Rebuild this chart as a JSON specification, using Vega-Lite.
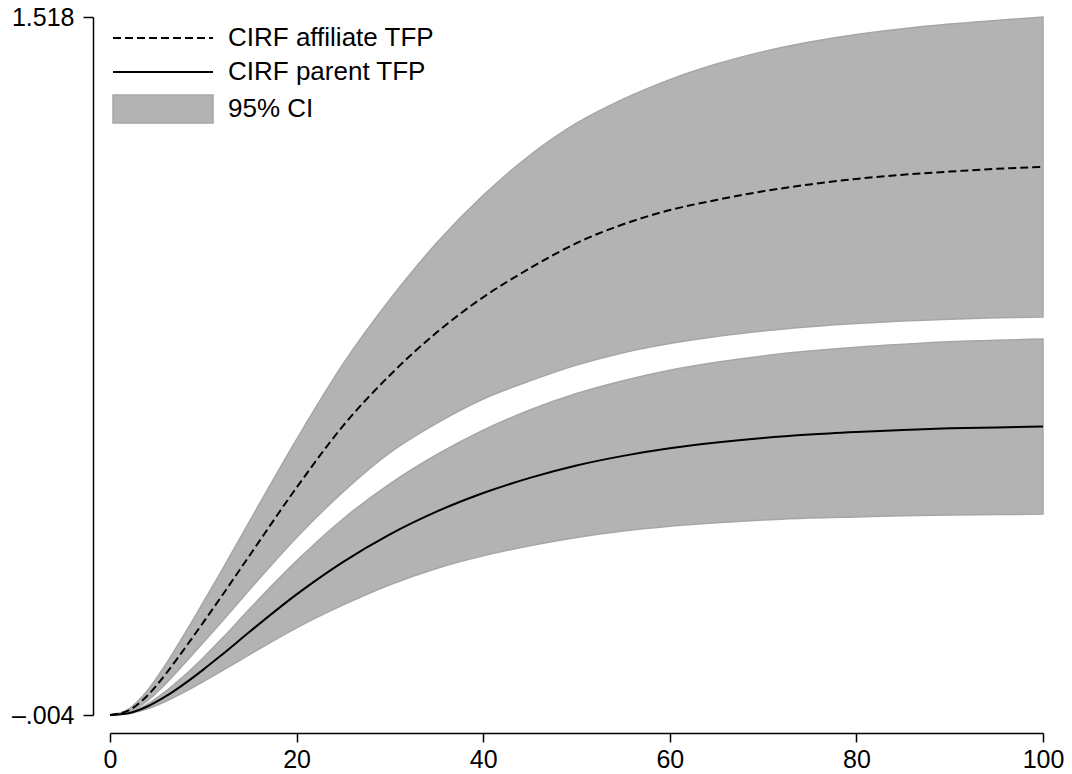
{
  "$schema": "https://vega.github.io/schema/vega-lite/v6.json",
  "width": 933,
  "height": 698,
  "autosize": {"type": "none"},
  "padding": {"left": 110, "top": 17, "right": 29, "bottom": 59},
  "background": "white",
  "config": {
    "view": {"stroke": null},
    "font": "Liberation Sans",
    "axis": {"grid": false, "domainColor": "black", "tickColor": "black", "labelColor": "black", "domainWidth": 1.5, "tickWidth": 1.5, "labelFont": "Liberation Sans", "labelFontSize": 25, "labelFlush": false, "labelOverlap": false}
  },
  "data": {
    "values": [
      {"x": 0, "ah": -0.004, "a": -0.004, "al": -0.004, "ph": -0.004, "p": -0.004, "pl": -0.004},
      {"x": 2, "ah": 0.009, "a": 0.006, "al": 0.003, "ph": 0.001, "p": 0.000, "pl": -0.001},
      {"x": 4, "ah": 0.049, "a": 0.038, "al": 0.027, "ph": 0.0195, "p": 0.0145, "pl": 0.0095},
      {"x": 6, "ah": 0.107, "a": 0.086, "al": 0.065, "ph": 0.048, "p": 0.037, "pl": 0.026},
      {"x": 8, "ah": 0.173, "a": 0.141, "al": 0.109, "ph": 0.0825, "p": 0.0645, "pl": 0.0465},
      {"x": 10, "ah": 0.242, "a": 0.198, "al": 0.154, "ph": 0.121, "p": 0.095, "pl": 0.069},
      {"x": 12, "ah": 0.312, "a": 0.256, "al": 0.200, "ph": 0.1625, "p": 0.1275, "pl": 0.0925},
      {"x": 15, "ah": 0.420, "a": 0.345, "al": 0.270, "ph": 0.228, "p": 0.178, "pl": 0.128},
      {"x": 20, "ah": 0.597, "a": 0.492, "al": 0.383, "ph": 0.332, "p": 0.259, "pl": 0.186},
      {"x": 25, "ah": 0.762, "a": 0.627, "al": 0.483, "ph": 0.424, "p": 0.330, "pl": 0.236},
      {"x": 30, "ah": 0.902, "a": 0.737, "al": 0.568, "ph": 0.500, "p": 0.390, "pl": 0.280},
      {"x": 35, "ah": 1.025, "a": 0.830, "al": 0.632, "ph": 0.5635, "p": 0.4395, "pl": 0.3155},
      {"x": 40, "ah": 1.129, "a": 0.907, "al": 0.685, "ph": 0.617, "p": 0.480, "pl": 0.343},
      {"x": 45, "ah": 1.2165, "a": 0.970, "al": 0.7245, "ph": 0.661, "p": 0.513, "pl": 0.365},
      {"x": 50, "ah": 1.2865, "a": 1.025, "al": 0.759, "ph": 0.697, "p": 0.540, "pl": 0.383},
      {"x": 55, "ah": 1.339, "a": 1.066, "al": 0.786, "ph": 0.725, "p": 0.561, "pl": 0.397},
      {"x": 60, "ah": 1.3815, "a": 1.097, "al": 0.806, "ph": 0.7475, "p": 0.5775, "pl": 0.4075},
      {"x": 65, "ah": 1.4155, "a": 1.119, "al": 0.8215, "ph": 0.765, "p": 0.590, "pl": 0.415},
      {"x": 70, "ah": 1.4425, "a": 1.138, "al": 0.8335, "ph": 0.779, "p": 0.600, "pl": 0.421},
      {"x": 75, "ah": 1.4635, "a": 1.153, "al": 0.8425, "ph": 0.7895, "p": 0.6075, "pl": 0.4255},
      {"x": 80, "ah": 1.480, "a": 1.165, "al": 0.8495, "ph": 0.798, "p": 0.613, "pl": 0.428},
      {"x": 85, "ah": 1.4925, "a": 1.174, "al": 0.855, "ph": 0.8045, "p": 0.6175, "pl": 0.4305},
      {"x": 90, "ah": 1.5025, "a": 1.181, "al": 0.859, "ph": 0.810, "p": 0.621, "pl": 0.432},
      {"x": 95, "ah": 1.5105, "a": 1.187, "al": 0.862, "ph": 0.813, "p": 0.623, "pl": 0.433},
      {"x": 100, "ah": 1.518, "a": 1.191, "al": 0.864, "ph": 0.816, "p": 0.625, "pl": 0.434}
    ]
  },
  "encoding": {
    "x": {
      "field": "x", "type": "quantitative",
      "scale": {"domain": [0, 100], "nice": false, "zero": false},
      "axis": {"values": [0, 20, 40, 60, 80, 100], "offset": 18, "tickSize": 9, "labelPadding": 5, "title": null}
    }
  },
  "layer": [
    {
      "mark": {"type": "area", "interpolate": "monotone", "stroke": "#a6a6a6", "strokeWidth": 1.5, "opacity": 1},
      "encoding": {
        "y": {
          "field": "al", "type": "quantitative", "title": null,
          "scale": {"domain": [-0.004, 1.518], "nice": false, "zero": false},
          "axis": {"values": [-0.004, 1.518], "offset": 17, "tickSize": 10, "labelPadding": 9, "title": null,
                   "labelExpr": "datum.value < 0 ? '–' + substring(format(-datum.value, '.3f'), 1) : format(datum.value, '.3f')"}
        },
        "y2": {"field": "ah"},
        "fill": {
          "datum": "95% CI",
          "scale": {"range": ["#b3b3b3"]},
          "legend": {"title": null, "orient": "none", "legendX": 2, "legendY": 41, "padding": 0,
                     "symbolType": "M-1,-0.28H1V0.28H-1Z", "symbolSize": 10000, "symbolStrokeColor": "#a6a6a6", "symbolStrokeWidth": 1.5, "symbolOpacity": 1,
                     "labelFontSize": 26, "labelOffset": 14, "labelColor": "black", "labelFont": "Liberation Sans", "labelLimit": 0}
        }
      }
    },
    {
      "mark": {"type": "area", "interpolate": "monotone", "stroke": "#a6a6a6", "strokeWidth": 1.5, "opacity": 1},
      "encoding": {
        "y": {"field": "pl", "type": "quantitative", "title": null},
        "y2": {"field": "ph"},
        "fill": {"datum": "95% CI"}
      }
    },
    {
      "mark": {"type": "line", "interpolate": "monotone", "stroke": "black", "strokeWidth": 2},
      "encoding": {
        "y": {"field": "a", "type": "quantitative", "title": null},
        "strokeDash": {
          "datum": "CIRF affiliate TFP",
          "scale": {"range": [[8, 4]]},
          "legend": {"title": null, "orient": "none", "legendX": 2, "legendY": -30, "padding": 0,
                     "symbolType": "stroke", "symbolSize": 10000, "symbolStrokeColor": "black", "symbolStrokeWidth": 2,
                     "labelFontSize": 26, "labelOffset": 14, "labelColor": "black", "labelFont": "Liberation Sans", "labelLimit": 0}
        }
      }
    },
    {
      "mark": {"type": "line", "interpolate": "monotone", "strokeWidth": 2},
      "encoding": {
        "y": {"field": "p", "type": "quantitative", "title": null},
        "stroke": {
          "datum": "CIRF parent TFP",
          "scale": {"range": ["black"]},
          "legend": {"title": null, "orient": "none", "legendX": 2, "legendY": 4, "padding": 0,
                     "symbolType": "stroke", "symbolSize": 10000, "symbolStrokeWidth": 2,
                     "labelFontSize": 26, "labelOffset": 14, "labelColor": "black", "labelFont": "Liberation Sans", "labelLimit": 0}
        }
      }
    }
  ]
}
